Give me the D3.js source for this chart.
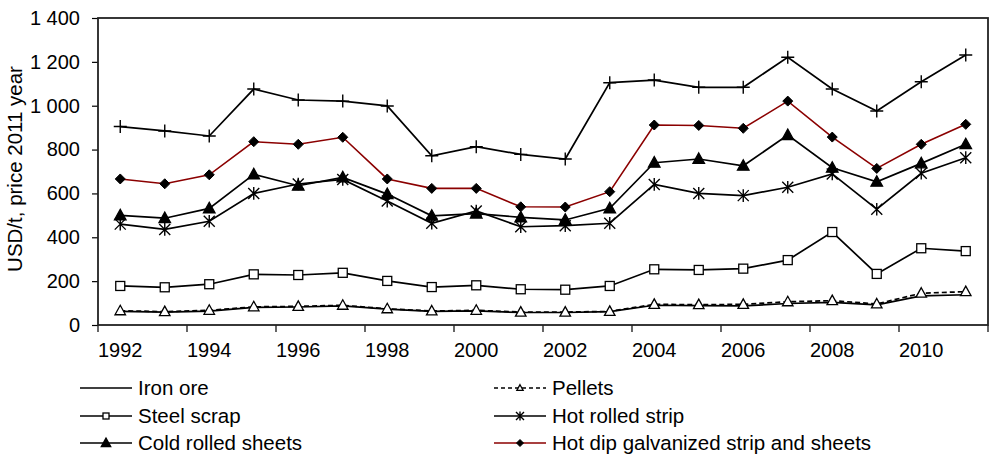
<!DOCTYPE html>
<html><head><meta charset="utf-8">
<script src="https://cdn.jsdelivr.net/npm/d3@7"></script>
<style>
html,body{margin:0;padding:0;background:#fff;}
svg{display:block;font-family:"Liberation Sans",Arial,sans-serif;}
</style></head>
<body><svg id="c" width="989" height="455"></svg>
<script>
const years = [1992,1993,1994,1995,1996,1997,1998,1999,2000,2001,2002,2003,2004,2005,2006,2007,2008,2009,2010,2011];
const topSeries    = [905,885,862,1076,1026,1021,999,772,813,778,757,1105,1117,1084,1084,1221,1076,976,1109,1231];
const hotDip       = [666,644,685,836,824,856,666,623,623,539,538,608,912,910,897,1021,857,714,824,915];
const coldRolled   = [500,487,532,687,635,673,597,498,508,491,479,532,740,757,726,866,717,653,737,824];
const hotRolled    = [460,436,473,600,643,664,565,464,520,448,453,464,641,600,590,628,689,528,692,763];
const steelScrap   = [178,172,186,231,228,238,201,173,181,163,161,178,254,251,257,296,424,233,350,337];
const pellets      = [65,61,67,83,85,90,74,64,67,59,59,62,94,93,94,106,111,96,145,152];
const ironOre      = [62,59,63,80,82,87,72,62,64,57,57,61,90,88,87,98,103,92,133,138];
const yTicks = [0,200,400,600,800,1000,1200,1400];
const xLabelYears = [1992,1994,1996,1998,2000,2002,2004,2006,2008,2010];
const yTitle = "USD/t, price 2011 year";

const series = [
  {name:"Iron ore", values:ironOre, marker:"none", color:"#000", dash:null, legend:[0,0]},
  {name:"Pellets", values:pellets, marker:"otri", color:"#000", dash:"5,3", legend:[1,0]},
  {name:"Steel scrap", values:steelScrap, marker:"square", color:"#000", dash:null, legend:[0,1]},
  {name:"Hot rolled strip", values:hotRolled, marker:"star", color:"#000", dash:null, legend:[1,1]},
  {name:"Cold rolled sheets", values:coldRolled, marker:"ftri", color:"#000", dash:null, legend:[0,2]},
  {name:"Hot dip galvanized strip and sheets", values:hotDip, marker:"diamond", color:"#8b0000", dash:null, legend:[1,2]},
  {name:"", values:topSeries, marker:"plus", color:"#000", dash:null, legend:null}
];

const L=98, R=988, T=18, B=325;
const svg = d3.select("#c");
const x = d3.scaleBand().domain(years).range([L,R]).paddingInner(0).paddingOuter(0);
const y = d3.scaleLinear().domain([0,1400]).range([B,T]);
const cx = d => x(d)+x.bandwidth()/2;
const fmt = d3.formatLocale({decimal:",",thousands:" ",grouping:[3],currency:["",""]}).format(",");

// y axis
const yAxis = svg.append("g").attr("transform",`translate(${L},0)`)
  .call(d3.axisLeft(y).tickValues(yTicks).tickSize(6).tickPadding(12).tickFormat(fmt));
yAxis.select(".domain").remove();
yAxis.selectAll("line").attr("stroke","#000").attr("stroke-width",1.2);
yAxis.selectAll("text").attr("font-size",20).attr("fill","#000").attr("font-family","Liberation Sans, Arial, sans-serif");

// x axis labels
const xAxis = svg.append("g").attr("transform",`translate(0,${B})`)
  .call(d3.axisBottom(x).tickValues(xLabelYears).tickSize(0).tickPadding(18));
xAxis.select(".domain").remove();
xAxis.selectAll("text").attr("font-size",20).attr("fill","#000").attr("font-family","Liberation Sans, Arial, sans-serif");
// x ticks at category boundaries every 2 years
const boundaries = years.filter((d,i)=>i%2===0).map(d=>x(d)).concat([x(years[years.length-1])+x.bandwidth()]);
svg.append("g").selectAll("line").data(boundaries).join("line")
  .attr("x1",d=>d).attr("x2",d=>d).attr("y1",B).attr("y2",B+7)
  .attr("stroke","#000").attr("stroke-width",1.2);

// plot frame
svg.append("rect").attr("x",L).attr("y",T).attr("width",R-L).attr("height",B-T)
  .attr("fill","none").attr("stroke","#222").attr("stroke-width",1.8);

// y title
svg.append("text").attr("transform","translate(22,169) rotate(-90)")
  .attr("text-anchor","middle").attr("font-size",20.5).attr("fill","#000").text(yTitle);

function drawMarker(g, type, px, py, s, color){
  const h=s/2;
  if(type==="square"){
    g.append("rect").attr("x",px-h).attr("y",py-h).attr("width",s).attr("height",s)
      .attr("fill","#fff").attr("stroke",color).attr("stroke-width",1.3);
  } else if(type==="otri"||type==="ftri"){
    const p=[[px,py-h*1.1],[px+h*1.05,py+h*0.8],[px-h*1.05,py+h*0.8]];
    g.append("path").attr("d","M"+p.join("L")+"Z")
      .attr("fill",type==="ftri"?color:"#fff").attr("stroke",color).attr("stroke-width",1.3);
  } else if(type==="diamond"){
    const p=[[px,py-h],[px+h,py],[px,py+h],[px-h,py]];
    g.append("path").attr("d","M"+p.join("L")+"Z").attr("fill","#000").attr("stroke","#000").attr("stroke-width",1);
  } else if(type==="star"){
    g.append("path").attr("d",`M${px-h},${py-h}L${px+h},${py+h}M${px-h},${py+h}L${px+h},${py-h}M${px},${py-h*1.15}L${px},${py+h*1.15}`)
      .attr("stroke",color).attr("stroke-width",1.4).attr("fill","none");
  } else if(type==="plus"){
    g.append("path").attr("d",`M${px-h},${py}L${px+h},${py}M${px},${py-h}L${px},${py+h}`)
      .attr("stroke",color).attr("stroke-width",1.4).attr("fill","none");
  }
}
const msize={square:9,otri:10,ftri:11,diamond:10,star:11,plus:13,none:0};
const lsize={square:6,otri:6,ftri:9,diamond:7,star:8,plus:8,none:0};

const line = d3.line().x((d,i)=>cx(years[i])).y(d=>y(d));
const plot = svg.append("g");
series.forEach(s=>{
  const g = plot.append("g");
  g.append("path").attr("d",line(s.values)).attr("fill","none")
    .attr("stroke",s.color).attr("stroke-width",s.color==="#000"?1.7:1.6)
    .attr("stroke-dasharray",s.dash);
  s.values.forEach((v,i)=>drawMarker(g,s.marker,cx(years[i]),y(v),msize[s.marker],"#000"));
});

// legend
const legX=[80,494], legY=[388,416,443];
const lg = svg.append("g");
series.filter(s=>s.legend).forEach(s=>{
  const lx=legX[s.legend[0]], ly=legY[s.legend[1]];
  lg.append("line").attr("x1",lx).attr("x2",lx+52).attr("y1",ly).attr("y2",ly)
    .attr("stroke",s.color).attr("stroke-width",1.7).attr("stroke-dasharray",s.dash?"4,3":null);
  drawMarker(lg,s.marker,lx+26,ly,lsize[s.marker],"#000");
  lg.append("text").attr("x",lx+58).attr("y",ly+7).attr("font-size",20.5).attr("fill","#000").text(s.name);
});
</script></body></html>
